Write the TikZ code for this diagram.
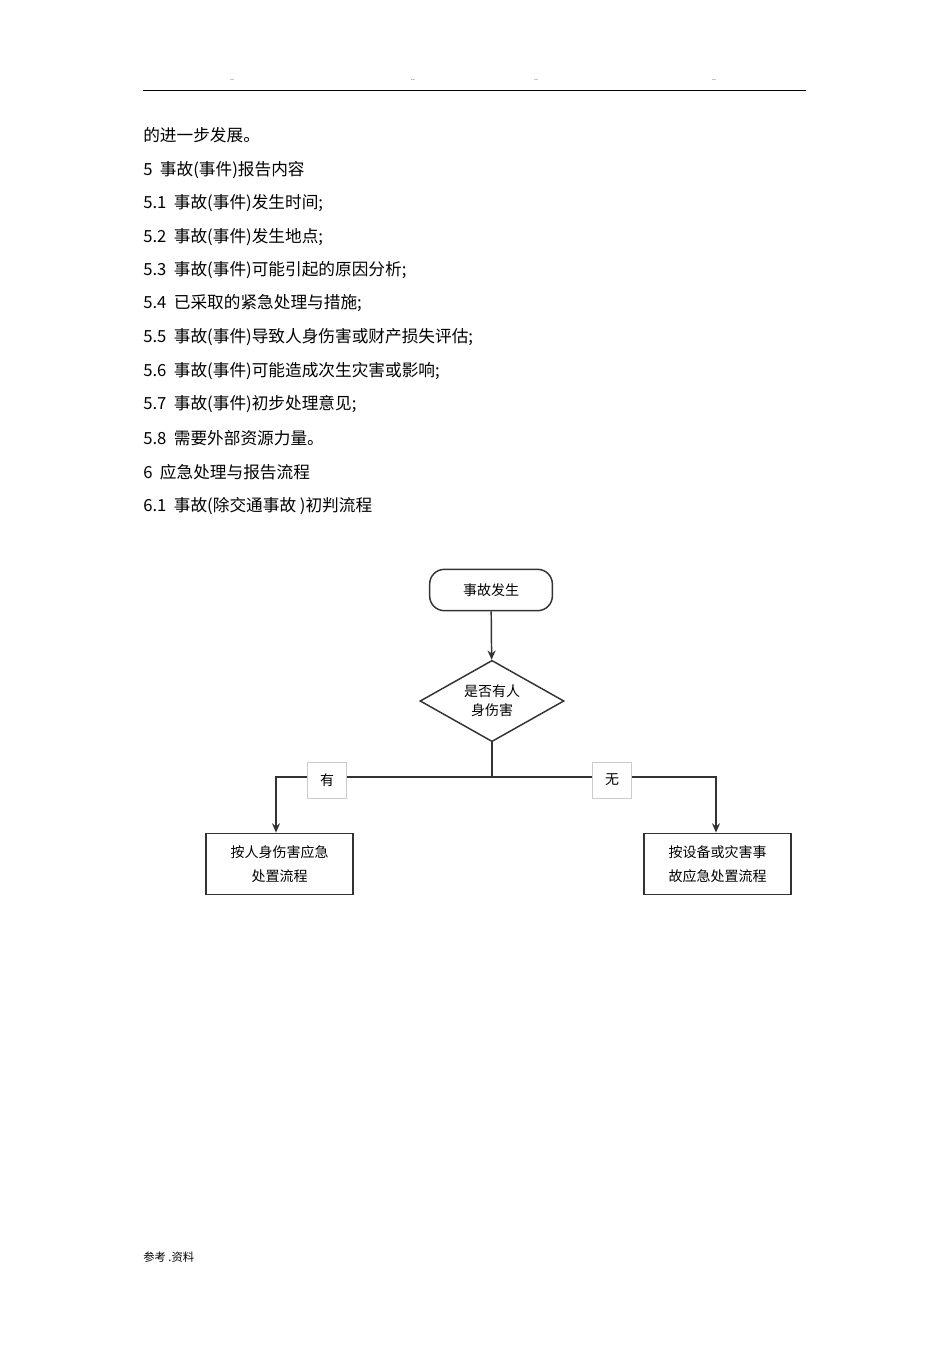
\documentclass[tikz,border=0pt]{standalone}
\usepackage{fontspec}
\setmainfont{Liberation Sans}
\newfontfamily\cjk{Noto Sans CJK SC}
\usetikzlibrary{shapes.geometric,arrows.meta}
\begin{document}
\begin{tikzpicture}[x=0.75pt,y=-0.75pt,
  txt/.style={anchor=west,inner sep=0,font=\fontsize{12.5}{14}\selectfont\cjk},
  fc/.style={font=\fontsize{10.5}{18}\selectfont\cjk,align=center},
  ln/.style={line width=1.1pt,draw=black!80},
  arr/.style={ln,-{Stealth[length=7pt,width=6pt]}},
  lab/.style={fc,draw=black!20,fill=white,minimum width=29pt,minimum height=27pt,inner sep=0}]
\useasboundingbox (0,0) rectangle (950,1345);
\foreach \x/\n in {232/d1,413/d2,536/d3,714/d4} \node[font=\tiny] (\n) at (\x,80) {..};
\draw[line width=0.6pt] (143,90) -- (806,90);
\node[txt] (t0) at (143,135) {的进一步发展。};
\node[txt] (t1) at (143,170) {5\ \ 事故(事件)报告内容};
\node[txt] (t2) at (143,203) {5.1\ \ 事故(事件)发生时间;};
\node[txt] (t3) at (143,237) {5.2\ \ 事故(事件)发生地点;};
\node[txt] (t4) at (143,270) {5.3\ \ 事故(事件)可能引起的原因分析;};
\node[txt] (t5) at (143,303) {5.4\ \ 已采取的紧急处理与措施;};
\node[txt] (t6) at (143,337) {5.5\ \ 事故(事件)导致人身伤害或财产损失评估;};
\node[txt] (t7) at (143,371) {5.6\ \ 事故(事件)可能造成次生灾害或影响;};
\node[txt] (t8) at (143,404) {5.7\ \ 事故(事件)初步处理意见;};
\node[txt] (t9) at (143,438) {5.8\ \ 需要外部资源力量。};
\node[txt] (t10) at (143,472) {6\ \ 应急处理与报告流程};
\node[txt] (t11) at (143,506) {6.1\ \ 事故(除交通事故 )初判流程};
\node[fc,draw,ln,rounded corners=11pt,minimum width=92pt,minimum height=31pt] (s) at (491,590) {事故发生};
\node[fc,draw,ln,diamond,aspect=1.78,minimum width=108pt,minimum height=61pt,inner sep=0] (d) at (492,701) {是否有人\\[-4pt]身伤害};
\node[fc,draw,ln,minimum width=110pt,minimum height=46pt] (l) at (279.5,864) {按人身伤害应急\\处置流程};
\node[fc,draw,ln,minimum width=110pt,minimum height=46pt] (r) at (717.5,864) {按设备或灾害事\\故应急处置流程};
\draw[arr] (s) -- (d);
\coordinate (j) at (492,777);
\coordinate (jl) at (276,777);
\coordinate (jr) at (716,777);
\draw[ln] (d.south) -- (j);
\draw[arr] (j) -- (jl) -- (jl |- l.north);
\draw[arr] (j) -- (jr) -- (jr |- r.north);
\node[lab] (y) at (327,780) {有};
\node[lab] (n) at (612,780) {无};
\node[anchor=west,inner sep=0,font=\fontsize{8.5}{10}\selectfont\cjk] (f) at (143,1257) {参考 .资料};
\end{tikzpicture}
\end{document}
